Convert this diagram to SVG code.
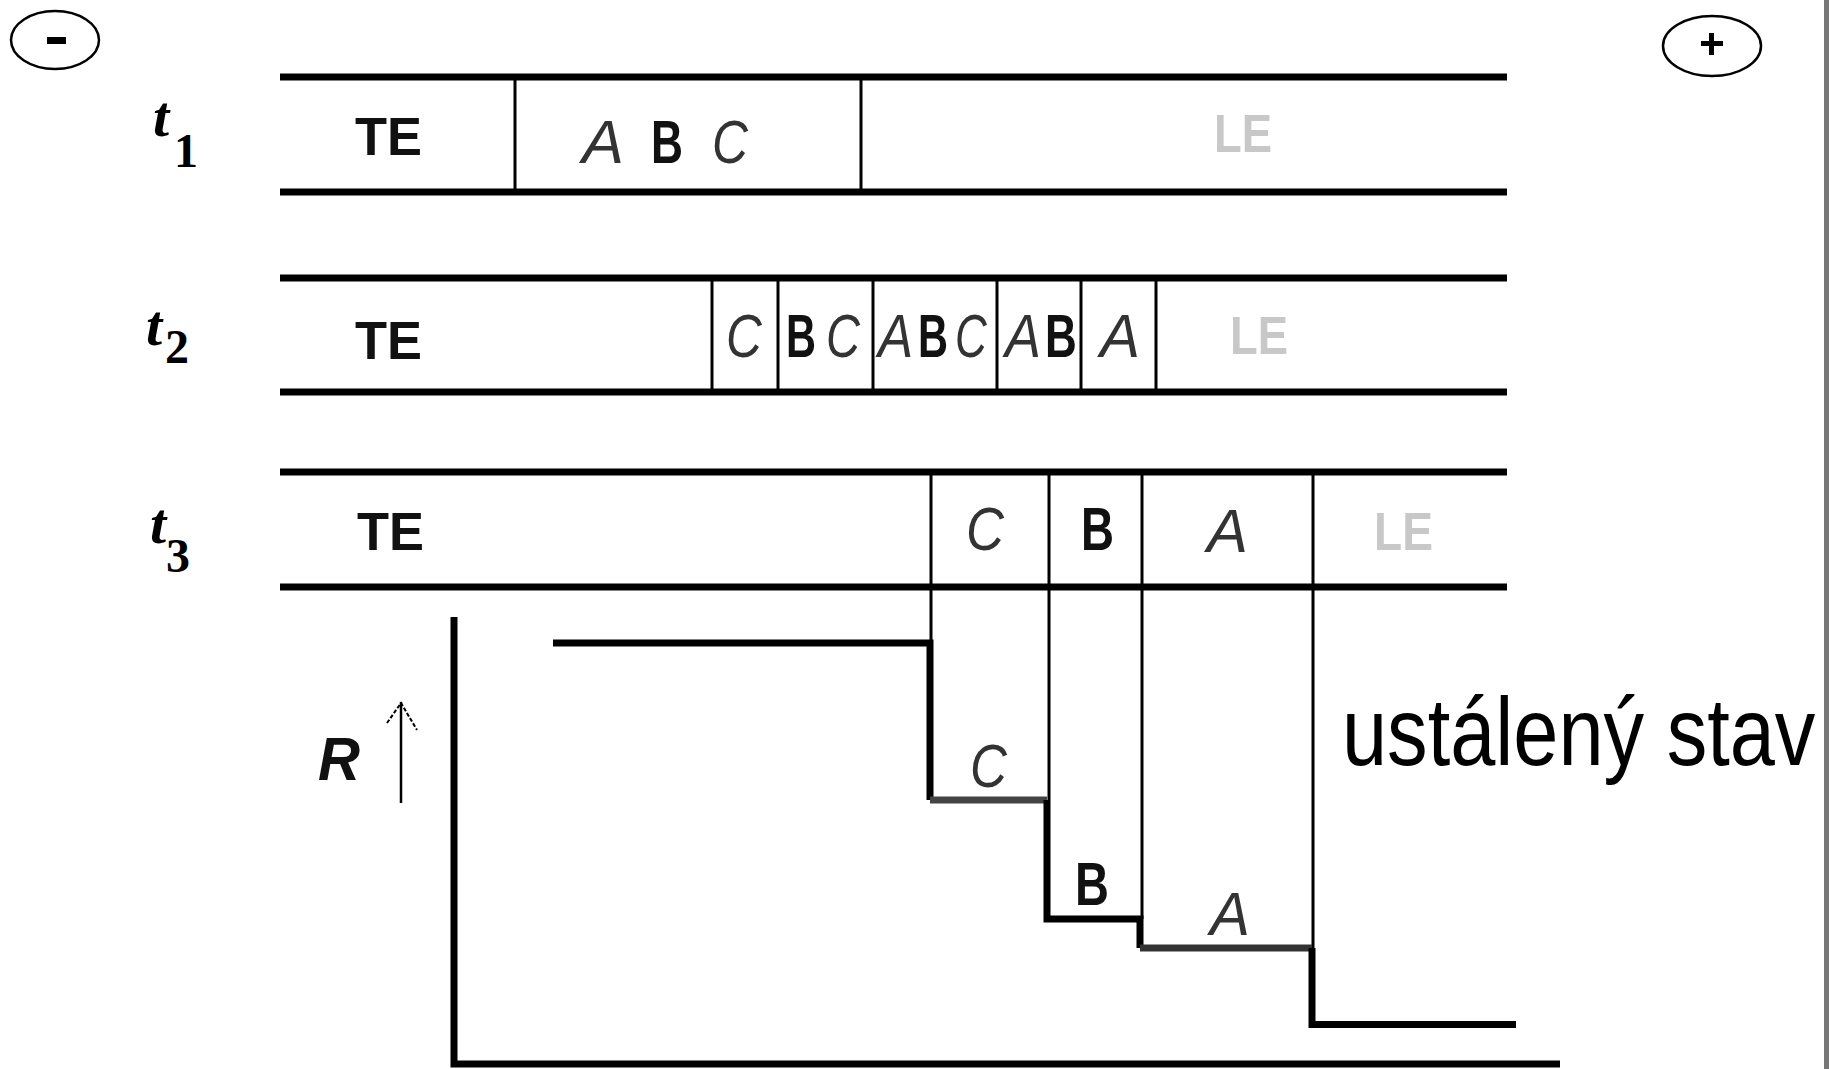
<svg xmlns="http://www.w3.org/2000/svg" width="1829" height="1069" viewBox="0 0 1829 1069">
<style>
.band{stroke:#000;stroke-width:7;fill:none}
.div{stroke:#000;stroke-width:3;fill:none}
.step{stroke:#000;stroke-width:7;fill:none;stroke-linejoin:miter}
.te{font-family:"Liberation Sans",Arial,sans-serif;font-weight:bold;font-size:54px;fill:#111}
.le{font-family:"Liberation Sans",Arial,sans-serif;font-weight:bold;font-size:54px;fill:#c8c8c8}
.hi{font-family:"Liberation Sans",Arial,sans-serif;font-style:italic;font-size:62px;fill:#333}
.hb{font-family:"Liberation Sans",Arial,sans-serif;font-weight:bold;font-size:62px;fill:#111}
.tt{font-family:"Liberation Serif","Times New Roman",serif;font-style:italic;font-weight:bold;font-size:58px;fill:#000}
.ts{font-family:"Liberation Serif","Times New Roman",serif;font-weight:bold;font-size:48px;fill:#000}
</style>
<rect x="0" y="0" width="1829" height="1069" fill="#fff"/>
<rect x="1824" y="0" width="5" height="1069" fill="#777"/>

<g id="minus">
<ellipse cx="55" cy="40" rx="44" ry="29" fill="none" stroke="#000" stroke-width="2.5"/>
<rect x="47" y="37" width="19" height="7" fill="#000"/>
</g>
<g id="plus">
<ellipse cx="1712" cy="46" rx="49" ry="30" fill="none" stroke="#000" stroke-width="2.5"/>
<rect x="1701" y="41" width="22" height="5" fill="#000"/>
<rect x="1709" y="33" width="5" height="22" fill="#000"/>
</g>

<g id="row1">
<line class="band" x1="280" y1="77" x2="1507" y2="77"/>
<line class="band" x1="280" y1="192" x2="1507" y2="192"/>
<line class="div" x1="515" y1="77" x2="515" y2="192"/>
<line class="div" x1="861" y1="77" x2="861" y2="192"/>
<text class="tt" x="153" y="136">t</text>
<text class="ts" x="174" y="167">1</text>
<text class="te" x="355" y="155" textLength="67" lengthAdjust="spacingAndGlyphs">TE</text>
<text class="hi" x="582" y="163" textLength="42" lengthAdjust="spacingAndGlyphs">A</text>
<text class="hb" x="651" y="163" textLength="32" lengthAdjust="spacingAndGlyphs">B</text>
<text class="hi" x="712" y="163" textLength="36" lengthAdjust="spacingAndGlyphs">C</text>
<text class="le" x="1214" y="152" textLength="58" lengthAdjust="spacingAndGlyphs">LE</text>
</g>

<g id="row2">
<line class="band" x1="280" y1="278" x2="1507" y2="278"/>
<line class="band" x1="280" y1="392" x2="1507" y2="392"/>
<line class="div" x1="712" y1="278" x2="712" y2="392"/>
<line class="div" x1="778" y1="278" x2="778" y2="392"/>
<line class="div" x1="873" y1="278" x2="873" y2="392"/>
<line class="div" x1="997" y1="278" x2="997" y2="392"/>
<line class="div" x1="1081" y1="278" x2="1081" y2="392"/>
<line class="div" x1="1156" y1="278" x2="1156" y2="392"/>
<text class="tt" x="146" y="345">t</text>
<text class="ts" x="165" y="363">2</text>
<text class="te" x="355" y="359" textLength="67" lengthAdjust="spacingAndGlyphs">TE</text>
<text class="hi" transform="translate(726,357) scale(0.80,1)">C</text>
<text class="hb" transform="translate(786,357) scale(0.67,1)">B</text>
<text class="hi" transform="translate(826,357) scale(0.76,1)">C</text>
<text class="hi" transform="translate(878,357) scale(0.85,1)">A</text>
<text class="hb" transform="translate(918,357) scale(0.67,1)">B</text>
<text class="hi" transform="translate(955,357) scale(0.71,1)">C</text>
<text class="hi" transform="translate(1005,357) scale(0.87,1)">A</text>
<text class="hb" transform="translate(1045,357) scale(0.71,1)">B</text>
<text class="hi" transform="translate(1100,357) scale(0.97,1)">A</text>
<text class="le" x="1230" y="354" textLength="58" lengthAdjust="spacingAndGlyphs">LE</text>
</g>

<g id="row3">
<line class="band" x1="280" y1="472" x2="1507" y2="472"/>
<line class="band" x1="280" y1="587" x2="1507" y2="587"/>
<text class="tt" x="150" y="543">t</text>
<text class="ts" x="166" y="572">3</text>
<text class="te" x="357" y="550" textLength="67" lengthAdjust="spacingAndGlyphs">TE</text>
<text class="hi" x="966" y="550" textLength="38" lengthAdjust="spacingAndGlyphs">C</text>
<text class="hb" x="1081" y="550" textLength="33" lengthAdjust="spacingAndGlyphs">B</text>
<text class="hi" x="1207" y="552" textLength="41" lengthAdjust="spacingAndGlyphs">A</text>
<text class="le" x="1374" y="550" textLength="59" lengthAdjust="spacingAndGlyphs">LE</text>
</g>

<g id="connectors">
<line class="div" x1="931" y1="472" x2="931" y2="643"/>
<line class="div" x1="1049" y1="472" x2="1049" y2="800"/>
<line class="div" x1="1142" y1="472" x2="1142" y2="919"/>
<line class="div" x1="1313" y1="472" x2="1313" y2="948"/>
<path class="step" d="M553 643 H930 V800"/>
<path d="M930 800 H1047" stroke="#444" stroke-width="7" fill="none"/>
<path class="step" d="M1047 800 V919 H1140 V948"/>
<path d="M1140 948 H1312" stroke="#333" stroke-width="7" fill="none"/>
<path class="step" d="M1312 948 V1024.5 H1516"/>
</g>

<g id="axes">
<path d="M454 617 V1064 H1560" stroke="#000" stroke-width="7" fill="none"/>
<line x1="401" y1="702" x2="401" y2="803" stroke="#000" stroke-width="2.5"/>
<polyline points="387,723 401,703 417,730" fill="none" stroke="#000" stroke-width="2" stroke-dasharray="4 2"/>
<text x="318" y="780" font-family="Liberation Sans, Arial, sans-serif" font-style="italic" font-weight="bold" font-size="62" fill="#111" textLength="42" lengthAdjust="spacingAndGlyphs">R</text>
</g>

<g id="chart-labels">
<text class="hi" x="970" y="787" textLength="37" lengthAdjust="spacingAndGlyphs">C</text>
<text class="hb" x="1075" y="905" textLength="34" lengthAdjust="spacingAndGlyphs">B</text>
<text class="hi" x="1210" y="935" textLength="40" lengthAdjust="spacingAndGlyphs">A</text>
<text transform="translate(1342,765) scale(0.845,1)" x="0" y="0" font-family="Liberation Sans, Arial, sans-serif" font-size="96" fill="#000">ustálený stav</text>
</g>
</svg>
